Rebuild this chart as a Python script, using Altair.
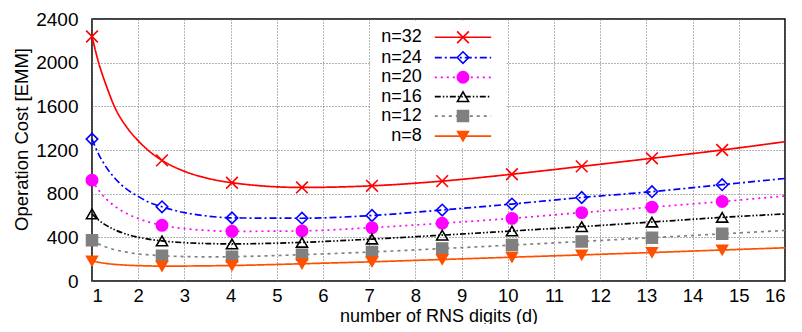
import altair as alt
import pandas as pd

# ---- data ----
SERIES = ["n=32", "n=24", "n=20", "n=16", "n=12", "n=8"]
X_D = [1, 1.15, 1.3, 1.5, 1.75, 2, 2.25, 2.515, 3.0, 3.5, 4.03, 5.545, 7.06, 8.58,
       10.09, 11.6, 13.12, 14.64, 16]
IS_MARKER = [1, 0, 0, 0, 0, 0, 0, 1, 0, 0, 1, 1, 1, 1, 1, 1, 1, 1, 0]
N32 = [2240, 1990, 1800, 1585, 1410, 1285, 1185, 1105, 1005, 941, 900, 857, 872, 915, 978, 1050, 1124, 1200, 1276]
N24 = [1300, 1156, 1048, 939, 841, 775, 718, 680, 626, 595, 578, 575, 600, 650, 705, 765, 818, 882, 939]
N20 = [924, 828, 755, 683, 618, 572, 537, 510, 480, 463, 455, 459, 489, 529, 574, 626, 677, 728, 779]
N16 = [615, 556, 512, 468, 428, 401, 382, 367, 351, 343, 340, 354, 384, 420, 458, 498, 540, 583, 614]
N12 = [373, 338, 312, 286, 264, 248, 239, 231, 224, 221, 223, 241, 266, 297, 329, 362, 397, 432, 463]
N8 = [183, 171, 161, 152, 145, 141, 138, 136, 137, 139, 142, 158, 176, 197, 218, 239, 261, 284, 304]
X_TICKS = list(range(1, 17))
Y_TICKS = [0, 400, 800, 1200, 1600, 2000, 2400]

VALUES = [N32, N24, N20, N16, N12, N8]

# ---- styles ----
COLORS = ["#ff0000", "#0000ff", "#ff00ff", "#000000", "#808080", "#ff5000"]
FILLS = ["transparent", "transparent", "#ff00ff", "transparent", "#808080", "#ff5000"]
DASHES = [[1, 0], [7, 3, 2, 3], [2, 4], [6, 2, 1.5, 2, 1.5, 2], [3, 4], [1, 0]]
SHAPES = ["M-1,-1L1,1M-1,1L1,-1", "diamond", "circle", "triangle-up", "square", "triangle-down"]
SIZES = [137, 115, 115, 100, 100, 100]
FONT = "Liberation Sans"

rows = []
for name, vals in zip(SERIES, VALUES):
    for x, y, m in zip(X_D, vals, IS_MARKER):
        rows.append({"n": name, "d": x, "cost": y, "marker": m})
df = pd.DataFrame(rows)

# legend rows (y position in data units of each legend entry)
LEG_Y = [2233, 2047, 1866, 1689, 1511, 1327]
leg = pd.DataFrame({"n": SERIES, "ly": LEG_Y})

xs = alt.Scale(domain=[1, 16], nice=False, zero=False)
ys = alt.Scale(domain=[0, 2400], nice=False)
cs = alt.Scale(domain=SERIES, range=COLORS)
fs = alt.Scale(domain=SERIES, range=FILLS)
ds = alt.Scale(domain=SERIES, range=DASHES)
ss = alt.Scale(domain=SERIES, range=SHAPES)
zs = alt.Scale(domain=SERIES, range=SIZES)

X = alt.X("d:Q", scale=xs, axis=alt.Axis(
    values=X_TICKS, title="number of RNS digits (d)", format="d"))
Y = alt.Y("cost:Q", scale=ys, axis=alt.Axis(
    values=Y_TICKS, title="Operation Cost [EMM]", format="d"))

base = alt.Chart(df)

lines = base.mark_line(interpolate="monotone", strokeWidth=1.7).encode(
    x=X, y=Y,
    color=alt.Color("n:N", scale=cs, legend=None),
    strokeDash=alt.StrokeDash("n:N", scale=ds, legend=None),
)

points = base.transform_filter(alt.datum.marker == 1).mark_point(
    opacity=1, strokeWidth=1.6, fillOpacity=1).encode(
    x=X, y=Y,
    color=alt.Color("n:N", scale=cs, legend=None),
    fill=alt.Fill("n:N", scale=fs, legend=None),
    shape=alt.Shape("n:N", scale=ss, legend=None),
    size=alt.Size("n:N", scale=zs, legend=None),
)

box = alt.Chart(pd.DataFrame({"a": [0]})).mark_rect(fill="white").encode(
    x=alt.datum(7.03, scale=xs), x2=alt.datum(9.97),
    y=alt.datum(1215, scale=ys), y2=alt.datum(2385),
)

lb = alt.Chart(leg)
leg_text = lb.mark_text(align="right", baseline="middle", fontSize=18, font=FONT, color="black").encode(
    x=alt.datum(8.14), y=alt.Y("ly:Q", scale=ys), text="n:N")
leg_line = lb.mark_rule(strokeWidth=1.7).encode(
    x=alt.datum(8.42), x2=alt.datum(9.64), y=alt.Y("ly:Q", scale=ys),
    color=alt.Color("n:N", scale=cs, legend=None),
    strokeDash=alt.StrokeDash("n:N", scale=ds, legend=None))
leg_pt = lb.mark_point(opacity=1, strokeWidth=1.6, fillOpacity=1).encode(
    x=alt.datum(9.03), y=alt.Y("ly:Q", scale=ys),
    color=alt.Color("n:N", scale=cs, legend=None),
    fill=alt.Fill("n:N", scale=fs, legend=None),
    shape=alt.Shape("n:N", scale=ss, legend=None),
    size=alt.Size("n:N", scale=zs, legend=None))

chart = alt.layer(box, lines, points, leg_line, leg_pt, leg_text).properties(
    width=693, height=262,
    padding={"left": 84, "top": 11, "right": 9, "bottom": 43},
    autosize=alt.AutoSizeParams(type="none"),
).configure_view(
    stroke="black", strokeWidth=1.5
).configure_axis(
    labelFont=FONT, titleFont=FONT, labelColor="black", titleColor="black",
    titleFontWeight="normal",
    grid=True, gridColor="#666666", gridDash=[1, 2], gridWidth=1,
    domain=False, ticks=False, tickSize=0,
).configure_axisY(
    labelFontSize=19, labelPadding=14, titleFontSize=18.5, titleX=-65, titleY=120,
    titleBaseline="alphabetic", titleAngle=270,
).configure_axisX(
    labelFontSize=18.5, labelPadding=5, titleFontSize=18, titleY=40,
    titleBaseline="alphabetic",
)

chart.save("out.html", embed_options={"renderer": "svg", "actions": False})
